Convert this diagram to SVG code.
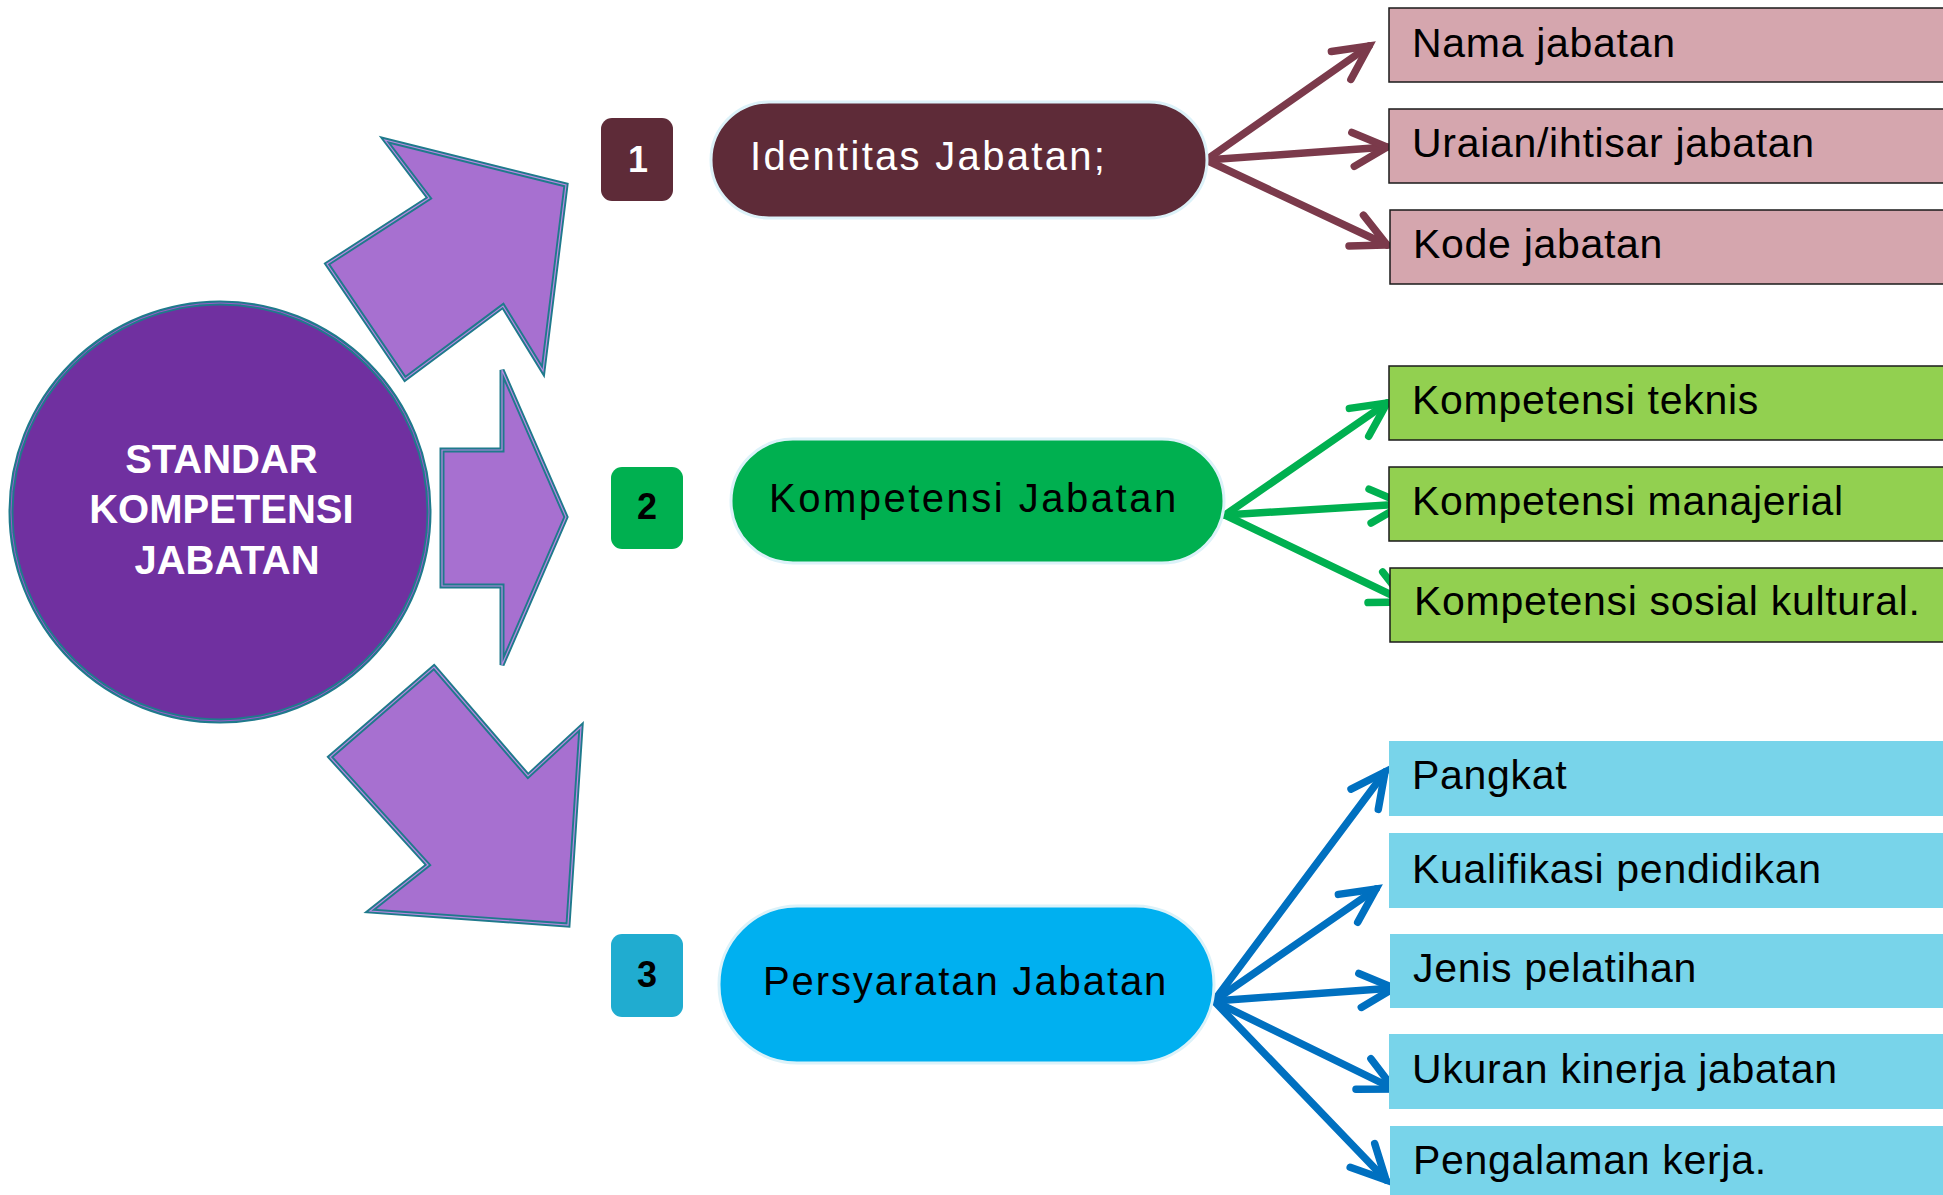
<svg xmlns="http://www.w3.org/2000/svg" width="1943" height="1195" viewBox="0 0 1943 1195">
<style>
.bigarrow{fill:#a770d0;stroke:#1f7a8c;stroke-width:5;stroke-linejoin:miter}
.bigarrow-in{fill:none;stroke:#b98ae0;stroke-width:1.2;stroke-linejoin:miter}
.badge-t{font-family:"Liberation Sans",Arial,sans-serif;font-weight:bold;font-size:36px;text-anchor:middle}
.pill{stroke:#dcf2f9;stroke-width:3}
.pill-t{font-family:"Liberation Sans",Arial,sans-serif;font-size:40px}
.box-t{font-family:"Liberation Sans",Arial,sans-serif;font-size:41px;letter-spacing:0.7px;fill:#000}
.pink{fill:#d5a6ae;stroke:#1a1a1a;stroke-width:1.5}
.lgreen{fill:#92d050;stroke:#1a1a1a;stroke-width:1.5}
.lblue{fill:#78d4ea}
.conn{fill:none;stroke-width:7.5;stroke-linecap:round}
.c-maroon{stroke:#7b3a4b;marker-end:url(#mh-maroon)}
.c-green{stroke:#00b050;marker-end:url(#mh-green)}
.c-blue{stroke:#0070c0;marker-end:url(#mh-blue)}
</style>
<defs>
<marker id="mh-maroon" markerUnits="userSpaceOnUse" orient="auto" overflow="visible" markerWidth="1" markerHeight="1" refX="0" refY="0"><path d="M-34,-17 L0,0 L-34,17" fill="none" stroke="#7b3a4b" stroke-width="7.5" stroke-linecap="round" stroke-linejoin="miter"/></marker>
<marker id="mh-green" markerUnits="userSpaceOnUse" orient="auto" overflow="visible" markerWidth="1" markerHeight="1" refX="0" refY="0"><path d="M-34,-17 L0,0 L-34,17" fill="none" stroke="#00b050" stroke-width="7.5" stroke-linecap="round" stroke-linejoin="miter"/></marker>
<marker id="mh-blue" markerUnits="userSpaceOnUse" orient="auto" overflow="visible" markerWidth="1" markerHeight="1" refX="0" refY="0"><path d="M-34,-17 L0,0 L-34,17" fill="none" stroke="#0070c0" stroke-width="7.5" stroke-linecap="round" stroke-linejoin="miter"/></marker>
</defs>
<rect width="1943" height="1195" fill="#ffffff"/>

<g id="connectors">
<line class="conn c-maroon" x1="1206" y1="160" x2="1369" y2="46"/>
<line class="conn c-maroon" x1="1206" y1="160" x2="1387" y2="147"/>
<line class="conn c-maroon" x1="1206" y1="160" x2="1387" y2="245"/>
<line class="conn c-green" x1="1225" y1="515" x2="1387" y2="403"/>
<line class="conn c-green" x1="1225" y1="515" x2="1404" y2="504"/>
<line class="conn c-green" x1="1225" y1="515" x2="1406" y2="602"/>
<line class="conn c-blue" x1="1214" y1="1001" x2="1385" y2="772"/>
<line class="conn c-blue" x1="1214" y1="1001" x2="1376" y2="889"/>
<line class="conn c-blue" x1="1214" y1="1001" x2="1394" y2="988"/>
<line class="conn c-blue" x1="1214" y1="1001" x2="1394" y2="1089"/>
<line class="conn c-blue" x1="1214" y1="1001" x2="1386" y2="1180"/>
</g>

<g id="big-arrows">
<polygon class="bigarrow" points="385,140 566,185 543,371 503,306 405,379 327,264 429,198"/>
<polygon class="bigarrow-in" points="385,140 566,185 543,371 503,306 405,379 327,264 429,198"/>
<polygon class="bigarrow" points="442,450 502,450 502,370 566,517 502,665 502,586 442,586"/>
<polygon class="bigarrow-in" points="442,450 502,450 502,370 566,517 502,665 502,586 442,586"/>
<polygon class="bigarrow" points="434,667 528,776 581,727 568,925 370,911 428,865 330,757"/>
<polygon class="bigarrow-in" points="434,667 528,776 581,727 568,925 370,911 428,865 330,757"/>
</g>

<g id="standar">
<circle cx="220" cy="512" r="209" fill="#7030a0" stroke="#1f7a8c" stroke-width="5"/>
<circle cx="220" cy="512" r="209" fill="none" stroke="#9a5cc8" stroke-width="1"/>
<text font-family="'Liberation Sans',Arial,sans-serif" font-weight="bold" font-size="40" fill="#ffffff" text-anchor="middle">
<tspan x="227" y="473">STANDAR</tspan>
<tspan x="227" y="523">KOMPETENSI</tspan>
<tspan x="227" y="574">JABATAN</tspan>
</text>
</g>

<g id="badge-1">
<rect x="601" y="118" width="72" height="83" rx="11" fill="#5e2b38"/>
<text class="badge-t" x="638" y="172" fill="#ffffff">1</text>
</g>
<g id="badge-2">
<rect x="611" y="467" width="72" height="82" rx="11" fill="#00b050"/>
<text class="badge-t" x="647" y="519" fill="#000000">2</text>
</g>
<g id="badge-3">
<rect x="611" y="934" width="72" height="83" rx="11" fill="#20acd0"/>
<text class="badge-t" x="647" y="987" fill="#000000">3</text>
</g>

<g id="identitas">
<rect class="pill" x="711" y="102" width="496" height="116" rx="58" fill="#5e2b38"/>
<text class="pill-t" x="750" y="170" font-size="42" letter-spacing="2.3" fill="#ffffff">Identitas Jabatan;</text>
</g>
<g id="kompetensi">
<rect class="pill" x="731" y="439" width="493" height="124" rx="62" fill="#00b050"/>
<text class="pill-t" x="769" y="512" letter-spacing="2.5" fill="#000000">Kompetensi Jabatan</text>
</g>
<g id="persyaratan">
<rect class="pill" x="719" y="906" width="495" height="157" rx="78" fill="#00b0f0"/>
<text class="pill-t" x="763" y="995" letter-spacing="1.9" fill="#000000">Persyaratan Jabatan</text>
</g>

<g id="nama-jabatan"><rect class="pink" x="1389" y="8" width="570" height="74"/><text class="box-t" x="1412" y="57">Nama jabatan</text></g>
<g id="uraian-jabatan"><rect class="pink" x="1389" y="109" width="570" height="74"/><text class="box-t" x="1412" y="157">Uraian/ihtisar jabatan</text></g>
<g id="kode-jabatan"><rect class="pink" x="1390" y="210" width="570" height="74"/><text class="box-t" x="1413" y="258">Kode jabatan</text></g>

<g id="kompetensi-teknis"><rect class="lgreen" x="1389" y="366" width="570" height="74"/><text class="box-t" x="1412" y="414">Kompetensi teknis</text></g>
<g id="kompetensi-manajerial"><rect class="lgreen" x="1389" y="467" width="570" height="74"/><text class="box-t" x="1412" y="515">Kompetensi manajerial</text></g>
<g id="kompetensi-sosial"><rect class="lgreen" x="1390" y="568" width="570" height="74"/><text class="box-t" x="1414" y="615">Kompetensi sosial kultural.</text></g>

<g id="pangkat"><rect class="lblue" x="1389" y="741" width="570" height="75"/><text class="box-t" x="1412" y="789">Pangkat</text></g>
<g id="kualifikasi"><rect class="lblue" x="1389" y="833" width="570" height="75"/><text class="box-t" x="1412" y="883">Kualifikasi pendidikan</text></g>
<g id="jenis-pelatihan"><rect class="lblue" x="1390" y="934" width="570" height="74"/><text class="box-t" x="1413" y="982">Jenis pelatihan</text></g>
<g id="ukuran-kinerja"><rect class="lblue" x="1389" y="1034" width="570" height="75"/><text class="box-t" x="1412" y="1083">Ukuran kinerja jabatan</text></g>
<g id="pengalaman"><rect class="lblue" x="1390" y="1126" width="570" height="80"/><text class="box-t" x="1413" y="1174">Pengalaman kerja.</text></g>
</svg>
